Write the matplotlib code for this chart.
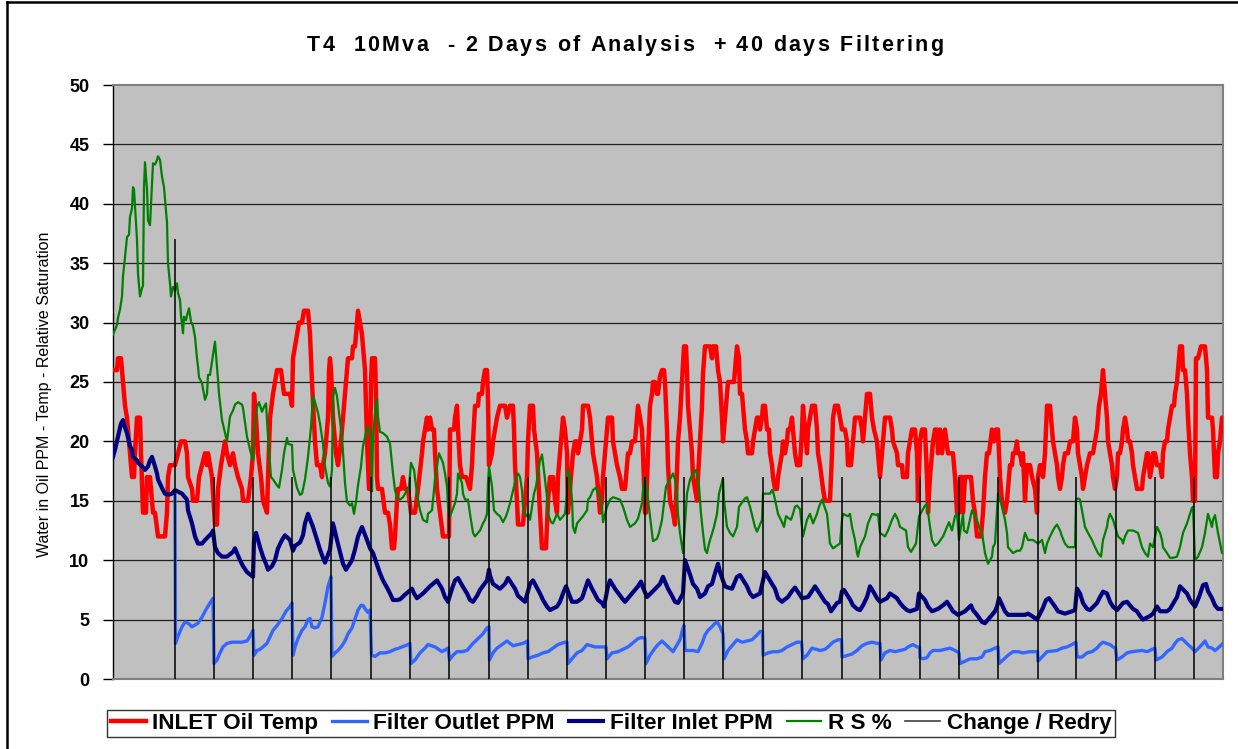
import matplotlib
matplotlib.use("Agg")
import matplotlib.pyplot as plt
from matplotlib.lines import Line2D
from matplotlib.font_manager import FontProperties

# ---------------- data (x = sample index along the 42-day record) ----------------
temp_t = [0,4,5,8,9,10,12,14,17,19,21,22,24,27,28,30,33,34,35,37,40,42,45,52,54,55,57,62,65,68,72,74,75,79,80,84,86,89,92,94,95,97,99,102,104,105,108,112,114,117,120,122,125,129,130,135,138,140,141,143,145,148,150,154,155,157,160,164,168,171,177,179,180,182,184,186,189,191,195,197,199,202,204,207,209,210,212,215,216,217,218,220,223,225,228,230,232,234,235,239,240,242,244,245,247,249,250,252,254,256,257,258,259,262,263,264,265,269,272,275,277,279,281,282,284,285,288,290,292,295,298,302,305,309,310,312,314,315,317,319,321,322,324,327,330,336,337,341,342,344,345,347,349,353,357,359,360,362,365,366,369,370,372,374,375,376,379,380,382,384,387,392,394,397,400,401,402,404,405,410,412,414,415,417,420,421,424,427,429,433,435,437,439,440,442,444,445,447,449,450,452,454,455,457,459,460,462,464,465,467,469,470,475,477,479,480,484,485,487,489,490,492,494,495,499,500,502,504,507,509,512,514,515,517,519,522,524,525,527,529,530,532,533,535,537,539,540,542,544,545,547,549,551,552,554,555,557,560,562,563,565,567,569,571,573,574,575,577,579,580,582,584,585,587,589,590,592,597,599,600,603,605,607,609,610,612,614,615,621,623,624,626,627,629,630,632,634,635,639,640,642,644,646,647,649,650,652,654,656,657,659,660,662,664,665,667,669,670,672,674,675,677,679,680,682,684,687,689,690,692,694,695,697,699,702,704,705,707,710,712,717,719,720,722,725,727,729,732,734,735,738,740,742,747,749,750,752,754,757,759,761,764,765,767,769,770,772,777,779,780,784,785,789,790,794,795,797,799,802,804,805,807,809,812,814,815,817,819,820,822,824,825,827,829,832,835,840,842,844,846,847,849,850,852,858,859,860,862,864,868,870,872,874,876,879,881,883,885,886,887,889,892,894,896,897,899,900,902,904,905,907,909,910,912,914,915,917,919,922,924,925,927,929,930,932,934,937,939,940,942,944,945,947,949,950,952,955,957,960,962,964,965,967,969,970,972,974,977,980,982,984,986,988,990,992,994,995,997,999,1000,1002,1004,1005,1007,1009,1010,1012,1014,1015,1017,1019,1020,1022,1024,1029,1030,1032,1034,1035,1037,1039,1040,1042,1044,1047,1049,1050,1052,1054,1055,1057,1059,1061,1062,1064,1065,1067,1069,1070,1072,1074,1075,1077,1079,1080,1082,1083,1085,1088,1092,1094,1095,1099,1100,1102,1104,1105,1107,1109,1110]
temp_v = [26,26,27,27,26,25,23,22,19,17,17,19,22,22,19,14,14,17,16,17,14,14,12,12,14,17,18,18,19,20,20,19,17,16,15,15,17,18,19,18,19,18,17,13,13,16,18,20,19,18,19,18,17,16,15,15,17,19,24,22,19,17,15,14,17,22,24,26,26,24,24,23,27,28,29,30,30,31,31,29,25,20,18,18,17,18,19,22,26,27,26,22,19,18,20,22,24,26,27,27,28,28,30,31,30,29,28,26,20,16,16,25,27,27,24,17,16,16,14,14,13,11,11,12,15,16,16,17,16,16,14,14,16,19,20,21,22,21,22,21,21,19,16,14,12,12,21,21,22,23,21,18,17,17,16,18,20,23,23,24,24,25,26,26,23.5,18,19,20,21,22,23,23,22,23,23,21,18,15,13,13,15,17,20,23,23,21,19,14,11,11,15,17,16,17,15,14,17,19,21,22,21,19,14,16,18,19,20,20,19,20,21,23,23,22,20,19,17,16,14,15,17,19,21,22,22,20,19,18,17,16,16,18,19,19,20,20,22,23,22,21,19,14,14,19,23,24,25,25,24,24,25.5,26,26,25,21,18,15,14,13,15,20,22,25,28,28,26,23,21,19,17,16,15,17,20,23,25.7,28,28,27,28,28,26,25,22,20,22,24,25,25,27,28,27,24,24,23,21,20,19,19,20,21,22,22,21,22,23,23,21,21,19,18,17,16,16,17,18,19,20,19,20,21,21,22,21,19,18,18,21,23,21,19,21,22,23,23,21,19,18,16,15,15,19,22,23,23,22,21,21,20,18,18,20,22,22,21,20,22,24,24,22,21,20,19,17,19,20,22,22,21,20,19,18,18,17,17,19,20,21,21,19,15,20,21,21,17,14,17,19,20,21,21,19,21,19,21,19,19,17,14,14,17,17,14,17,17,16,15,14,12,12,14,17,19,19,21,20,21,21,19,17,15,14,15,17,18,18,19,19,20,19,19,18,19,15,18,18,18,17,16,14,17,18,18,17,19,23,23,21,20,19,18,17,16,17,18,19,19,20,20,22,21,19,18,17,16,17,18,19,19,20,21,23,24,26,24,22,20,19,18,17,16,17,19,19,20,21,22,21,20,20,19,18,17,16,16,17,18,19,19,17,18,19,19,18,18,17,19,20,20,21,22,23,23,24,25,26,28,28,26,26,24,22,19,17,15,15,27,27,28,28,26,22,22,21,17,17,19,20,22,22]

outlet_t = [62,62.5,65,69,72,75,79,85,89,92,97,100,101,104,107,110,114,119,124,129,134,137,140,141,144,147,150,154,160,164,169,173,177,179,180,182,185,189,192,195,197,199,202,205,209,212,215,218,219,222,225,229,232,235,239,245,248,250,253,255,257,258.5,262,267,272,277,282,286,292,295,297,298,302,307,312,315,322,329,335,336.5,340,344,349,354,360,365,370,374,376,376.5,380,384,389,394,400,410,414.5,415,419,425,430,435,445,452,454,455,459,464,469,474,482,492,493,494,499,505,515,525,529,532,533,537,542,545,549,554,560,567,570,571,572,580,585,589,592,595,599,602,604,607,610,611,615,624,629,639,644,647,649.5,650,655,660,665,669,674,679,684,688.5,690,694,699,703,707,712,715,720,725,728.5,729,739,744,749,754,759,764,767,768,772,777,782,787,792,795,800,804,806.5,807,810,814,817,820,827,832,837,842,846,847,852,857,864,869,872,877,882,885,886,890,895,900,905,910,917,922,924.5,925,929,934,944,949,954,959,963,964,969,974,979,984,987,990,997,1000,1002.5,1004,1009,1014,1019,1029,1034,1042,1043,1049,1054,1059,1062,1065,1069,1075,1079,1081,1082,1089,1092,1095,1099,1102,1105,1110]
outlet_v = [15.6,3.0,3.6,4.4,4.8,4.7,4.4,4.7,5.2,5.7,6.4,6.8,1.3,1.6,2.2,2.7,3.0,3.1,3.1,3.1,3.2,3.6,4.1,2.0,2.4,2.5,2.7,3.0,4.1,4.5,5.1,5.7,6.1,6.4,2.0,2.7,3.4,4.1,4.4,5.0,5.1,4.4,4.3,4.4,5.2,6.4,7.8,8.6,1.9,2.2,2.4,2.8,3.2,3.8,4.3,5.8,6.2,6.2,5.8,5.6,5.8,2.0,1.9,2.2,2.2,2.3,2.5,2.6,2.8,2.9,3.0,1.3,1.6,2.2,2.6,2.9,2.7,2.3,2.6,1.6,2.0,2.3,2.3,2.4,3.0,3.4,3.8,4.3,4.4,1.6,2.2,2.6,2.9,3.2,2.8,3.0,3.2,1.7,1.85,2.0,2.2,2.3,2.9,3.1,3.1,1.3,1.7,2.2,2.4,2.9,2.7,2.7,2.7,1.7,2.2,2.3,2.7,3.4,3.5,3.4,1.3,2.0,2.6,2.9,3.2,2.8,2.3,3.3,4.3,4.5,2.4,2.4,2.3,3.0,3.7,4.1,4.4,4.7,4.8,4.4,3.8,1.7,2.4,3.3,3.1,3.3,3.7,4.0,4.0,2.0,2.2,2.3,2.3,2.4,2.7,2.9,3.1,3.1,1.7,2.0,2.6,2.5,2.4,2.5,2.7,3.1,3.3,3.3,1.85,2.1,2.4,2.8,3.0,3.1,3.0,3.0,1.6,2.2,2.4,2.3,2.4,2.5,2.7,2.9,2.7,2.7,1.8,1.7,1.8,2.2,2.4,2.4,2.5,2.6,2.4,2.2,1.3,1.5,1.7,1.7,1.85,2.3,2.4,2.6,2.7,1.3,1.6,2.0,2.3,2.3,2.2,2.3,2.3,2.3,1.5,1.85,2.3,2.4,2.6,2.7,2.9,3.1,1.85,1.85,2.2,2.3,2.6,2.9,3.1,2.9,2.7,2.6,1.6,1.85,2.2,2.3,2.4,2.3,2.6,1.6,1.85,2.3,2.6,3.0,3.3,3.4,2.9,2.6,2.4,2.3,2.9,3.2,2.7,2.6,2.4,2.6,3.0]

inlet_t = [0,2,5,8,10,11,14,17,19,20,24,25,29,32,35,37,39,42,44,45,50,52,55,59,62,69,74,75,79,82,85,89,92,99,100,102,105,109,114,117,120,122,124,127,130,134,137,140,141,143,147,150,153,155,159,162,165,169,172,177,180,182,187,190,192,195,200,204,207,210,212,217,220,224,230,233,239,242,245,249,254,257,260,267,270,274,277,280,284,287,292,299,301,304,310,317,324,329,332,335,339,342,345,349,354,357,360,364,367,374,376,377,380,387,392,395,402,405,412,417,420,427,430,434,437,444,447,450,453,459,464,469,475,479,485,489,491,495,497,502,509,512,519,525,528,530,534,540,547,550,555,559,562,565,570,572,577,580,584,587,592,595,599,602,605,607,612,615,619,624,627,634,637,640,647,652,659,662,665,669,675,679,682,689,695,699,702,709,712,715,718,724,727,729,731,737,740,744,747,750,754,757,760,764,767,774,777,784,787,790,794,797,804,806,812,815,819,825,830,834,840,845,852,858,860,864,869,872,875,879,882,884,886,892,895,902,912,915,919,924,930,933,936,942,945,952,959,962,964,967,970,974,977,984,987,990,994,997,1000,1004,1010,1014,1020,1024,1027,1030,1037,1040,1044,1047,1054,1057,1064,1067,1074,1077,1082,1086,1090,1093,1095,1099,1102,1105,1110]
inlet_v = [18.7,19.3,20.4,21.5,21.8,21.4,20.7,19.6,19.3,18.7,18.4,18.2,17.9,17.6,17.9,18.4,18.7,17.9,17.3,16.8,15.9,15.6,15.5,15.6,15.9,15.6,15.1,14.2,13.1,12.0,11.4,11.4,11.7,12.3,12.5,11.1,10.6,10.3,10.3,10.5,10.7,11.0,10.6,10.0,9.5,9.0,8.8,8.6,11.7,12.3,11.1,10.3,9.7,9.2,9.5,10.0,11.0,11.7,12.1,11.7,10.8,11.2,11.5,12.1,13.1,13.9,12.8,11.7,10.9,10.2,9.8,10.9,13.1,11.7,9.7,9.2,10.0,10.9,12.0,12.8,11.7,11.0,10.6,8.9,8.3,7.7,7.2,6.65,6.65,6.7,7.1,7.6,7.2,6.8,7.2,7.8,8.3,7.6,6.9,6.5,7.6,8.3,8.5,7.9,7.2,6.65,6.5,7.0,7.5,8.3,9.2,8.7,8.0,7.6,8.0,8.5,7.6,7.0,6.5,8.0,8.3,7.2,6.65,6.1,5.8,6.1,6.5,7.2,7.8,6.5,6.5,6.8,8.3,7.6,6.65,6.4,6.1,7.8,8.3,7.6,6.8,6.5,7.2,7.8,8.2,7.7,6.9,7.4,8.0,8.6,7.6,7.0,6.5,6.4,7.2,10.0,8.8,8.0,7.6,6.9,7.2,7.8,8.0,8.9,9.7,9.0,7.8,7.7,7.6,8.6,8.75,7.8,7.2,6.9,7.2,9.0,8.0,7.6,6.8,6.5,6.9,7.4,7.7,6.8,6.9,7.4,7.8,6.9,6.5,6.3,5.7,6.4,6.5,7.4,7.5,6.7,6.2,5.9,5.8,6.2,6.9,7.8,7.4,6.8,6.5,6.8,7.2,6.8,6.4,6.1,5.8,5.7,5.9,7.2,6.65,6.1,5.7,5.9,6.2,6.5,5.7,5.4,5.7,6.2,5.8,5.4,4.8,4.7,5.0,5.4,5.7,6.1,6.8,5.7,5.4,5.4,5.4,5.5,5.3,5.0,6.0,6.65,6.8,6.1,5.7,5.5,5.7,5.8,7.6,7.2,6.4,5.9,5.8,6.4,6.9,7.35,7.2,6.5,6.1,5.8,6.4,6.5,5.9,5.7,5.3,5.0,5.3,5.5,6.1,5.7,5.7,5.9,6.9,7.8,7.2,6.65,6.1,6.9,7.9,8.0,7.4,6.8,6.2,5.9,5.9]

rs_t = [0,4,5,7,9,10,12,14,16,17,19,20,21,22,24,25,27,29,30,31,32,34,35,37,39,40,42,44,45,47,49,51,54,55,57,58,60,62,64,65,67,68,70,71,73,74,76,78,80,82,84,85,86,89,92,94,95,97,102,105,106,109,112,114,117,120,122,125,129,130,134,137,140,141,144,146,149,151,153,155,158,160,164,166,169,171,174,175,179,180,184,187,189,192,195,198,200,202,205,207,210,212,215,217,219,220,222,224,226,229,232,234,237,239,241,243,245,248,250,254,255,258,259,260,262,264,265,267,270,274,277,280,282,284,287,290,294,296,298,301,304,307,310,314,315,319,320,322,324,326,330,332,334,335,337,342,344,345,349,350,352,355,357,360,362,367,370,372,374,375,376,379,381,384,387,390,393,395,397,401,403,405,407,409,410,412,414,415,417,421,423,425,427,429,430,432,434,435,438,440,444,447,452,454,455,457,459,460,462,464,467,470,474,475,477,480,483,487,489,490,494,497,500,507,510,514,517,522,525,529,530,532,535,537,539,540,544,546,549,553,557,560,562,564,565,567,570,574,577,580,583,586,588,590,592,594,596,601,604,606,610,611,614,617,620,624,626,632,634,637,642,644,646,649,650,657,659,660,662,665,669,671,673,678,680,682,684,687,690,694,697,700,704,706,709,714,717,720,727,729,730,735,737,739,742,744,745,747,752,755,759,764,765,767,772,775,779,782,785,787,793,795,798,803,806,810,812,814,817,819,822,825,830,834,836,839,842,844,846,850,851,854,859,864,866,869,872,875,879,880,882,885,887,889,892,894,895,900,904,907,909,912,915,920,925,929,932,934,937,940,942,944,947,949,952,955,962,963,965,967,970,972,975,979,982,985,988,990,994,995,997,1000,1004,1005,1009,1010,1012,1015,1020,1025,1027,1029,1032,1035,1037,1040,1044,1047,1049,1050,1054,1057,1060,1064,1067,1070,1074,1077,1079,1080,1082,1085,1089,1092,1094,1095,1099,1100,1102,1105,1109,1110]
rs_v = [29.0,29.8,30.4,31.1,32.2,33.9,35.5,37.2,37.4,38.9,39.6,41.4,41.2,39.8,37.0,34.1,32.2,32.9,33.1,41.4,43.5,41.2,38.6,38.2,41.7,43.4,43.3,43.7,44.0,43.7,42.3,41.4,38.4,35.0,33.3,32.2,33.0,32.7,33.3,32.5,31.9,30.6,29.1,30.5,30.2,30.6,31.2,30.1,29.7,28.8,27.0,26.3,25.4,24.9,23.5,24.0,25.6,25.6,28.4,25.2,24.0,21.8,20.7,20.0,22.1,22.6,23.1,23.3,23.1,22.8,20.4,19.3,18.4,20.7,22.9,23.3,22.5,22.9,23.2,20.4,17.0,16.8,16.3,16.1,17.6,19.0,20.3,19.8,19.7,17.6,16.1,15.5,15.6,16.8,18.7,21.2,23.8,23.3,22.4,21.5,19.8,17.9,16.5,16.2,17.6,23.8,24.5,23.8,22.4,20.4,16.5,14.9,14.6,14.8,13.9,14.9,16.3,17.9,19.6,21.1,21.2,20.4,15.8,20.4,22.4,23.6,22.1,20.8,20.7,20.4,19.8,17.3,15.9,15.3,15.1,15.3,15.9,16.2,18.2,17.6,15.6,14.2,13.4,13.2,13.9,14.2,15.1,16.8,17.9,19.0,18.2,17.3,16.2,14.5,13.7,14.8,15.6,17.3,16.5,15.6,15.1,15.1,13.9,12.3,12.0,12.5,13.1,13.4,13.9,16.5,17.9,16.2,14.2,13.9,13.7,13.2,13.7,14.2,14.8,16.2,17.0,17.3,17.0,15.9,14.5,13.9,13.7,13.9,13.4,15.6,16.2,17.3,18.4,18.9,18.2,16.8,15.3,13.9,13.2,13.1,13.9,13.4,13.9,15.6,17.6,17.0,15.1,12.8,12.3,13.1,13.4,13.7,14.2,15.1,15.3,15.9,16.1,15.3,14.5,13.2,14.5,15.1,15.3,15.1,14.5,13.4,12.8,13.1,13.5,14.8,15.9,17.0,15.1,13.7,12.3,11.6,11.8,12.3,13.4,16.2,16.8,17.3,16.8,15.6,13.9,12.3,10.6,15.6,16.8,17.3,17.6,16.2,13.9,12.3,10.9,10.6,11.4,12.8,13.9,15.6,16.9,15.1,12.8,12.3,12.0,12.8,14.5,15.2,15.3,14.5,12.8,12.4,12.8,13.4,15.6,15.6,15.9,15.8,15.1,13.9,13.2,12.8,13.7,13.4,13.9,14.5,14.6,14.3,12.0,13.4,13.9,13.1,13.9,14.5,15.1,13.9,11.4,11.0,11.4,13.4,13.9,13.7,13.9,12.8,11.7,10.6,10.3,11.1,12.0,13.1,13.9,13.8,13.9,12.3,12.0,12.5,13.4,13.9,13.4,12.8,12.5,11.1,10.7,11.4,13.7,14.3,14.6,14.7,12.8,11.7,11.2,11.4,12.0,12.8,13.2,12.5,13.7,13.9,11.7,13.9,12.5,12.3,14.2,13.4,12.8,12.3,10.6,9.7,10.3,11.1,11.4,15.6,15.1,14.5,13.4,12.3,11.1,10.6,10.8,10.8,11.1,12.3,11.7,11.7,11.4,11.7,10.6,11.4,12.0,12.5,12.8,13.0,12.5,12.0,11.4,11.1,11.1,15.1,15.2,15.1,13.7,12.8,12.3,11.7,11.1,10.6,10.3,11.7,12.8,13.4,13.9,13.4,12.3,12.0,11.7,11.4,12.0,12.5,12.5,12.3,11.7,11.1,10.6,10.3,11.4,11.1,12.8,12.3,11.7,11.1,10.6,10.2,10.2,10.3,11.1,12.3,13.1,13.9,14.4,14.5,10.0,10.3,11.1,12.3,13.4,13.9,12.8,13.4,13.8,12.3,10.6,10.6]

redry_t = [62,101,140,179,218,258,297,336,376,415,454,493,532,571,610,650,689,729,767,807,846,885,925,963,1003,1042,1081]
redry_h = [37,17,17,17,17,17,17,17,17,17,17,17,17,17,17,17,17,17,17,17,17,17,17,17,17,17,17]

y_ticks = [0, 5, 10, 15, 20, 25, 30, 35, 40, 45, 50]
title = "T4  10Mva  - 2 Days of Analysis  + 40 days Filtering"
ylabel = "Water in Oil PPM - Temp - Relative Saturation"
labels = ["INLET Oil Temp", "Filter Outlet PPM", "Filter Inlet PPM", "R S %", "Change / Redry"]

# ---------------- figure ----------------
plt.rcParams['font.family'] = ['Liberation Sans', 'DejaVu Sans']
W, H = 1238, 749
fig = plt.figure(figsize=(W / 100, H / 100), dpi=100)
fig.patch.set_facecolor('white')
ax = fig.add_axes([113 / W, 1 - 679 / H, (1223 - 113) / W, (679 - 85) / H])
ax.set_facecolor('#C0C0C0')

c_red, c_lb, c_navy, c_green = '#FF0000', '#3366FF', '#000080', '#008000'
l1, = ax.plot(temp_t, temp_v, color=c_red, lw=3.2, zorder=3)
l2, = ax.plot(outlet_t, outlet_v, color=c_lb, lw=2.4, zorder=4)
l3, = ax.plot(inlet_t, inlet_v, color=c_navy, lw=3.0, zorder=5)
l4, = ax.plot(rs_t, rs_v, color=c_green, lw=1.6, zorder=6)
ax.vlines(redry_t, 0, redry_h, color='black', lw=1.1, zorder=7)
l5 = Line2D([], [], color='#404040', lw=1.2)

ax.set_xlim(0, 1110)
ax.set_ylim(0, 50)
ax.set_yticks(y_ticks)
ax.set_xticks([])
for y in y_ticks[1:-1]:
    ax.axhline(y, color='#202020', lw=0.9, zorder=1)
for s in ['top', 'right', 'bottom']:
    ax.spines[s].set_color('#808080')
    ax.spines[s].set_linewidth(1.5)
ax.spines['left'].set_color('black')
ax.spines['left'].set_linewidth(1.0)
ax.tick_params(axis='y', direction='out', length=7, width=1, pad=10, labelsize=13)
for lab in ax.get_yticklabels():
    lab.set_fontweight('bold')


def spaced_text(s, xc_px, ybase_px, spacing_px, prop):
    """Draw text with extra letter spacing, centred at xc_px, baseline at ybase_px (from top)."""
    renderer = fig.canvas.get_renderer()
    wref = renderer.get_text_width_height_descent('x', prop, ismath=False)[0]
    adv = [renderer.get_text_width_height_descent(s[:i] + 'x', prop, ismath=False)[0] - wref
           for i in range(len(s) + 1)]
    total = adv[-1] + spacing_px * (len(s) - 1)
    x0 = xc_px - total / 2
    for i, ch in enumerate(s):
        if ch == ' ':
            continue
        fig.text((x0 + adv[i] + i * spacing_px) / W, 1 - ybase_px / H, ch,
                 fontproperties=prop, ha='left', va='baseline')


title_prop = FontProperties(family=['Liberation Sans', 'DejaVu Sans'], weight='bold', size=15.5)
spaced_text(title, 625, 51, 2.3, title_prop)

fig.text(45 / W, 1 - 394 / H, ylabel, rotation=90, ha='center', va='center', fontsize=11.5)

leg = fig.legend([l1, l2, l3, l4, l5], labels, loc='center', bbox_to_anchor=(611 / W, 1 - 723.5 / H),
                 ncol=5, frameon=True, fancybox=False, edgecolor='black', handlelength=1.55,
                 handletextpad=0.28, columnspacing=0.62, borderpad=0.15, borderaxespad=0,
                 prop={'weight': 'bold', 'size': 16.2})
leg.get_frame().set_linewidth(1.0)

# outer chart frame (top and left edges visible)
fig.add_artist(Line2D([7 / W, 1], [1 - 1.5 / H, 1 - 1.5 / H], color='black', lw=1.8, transform=fig.transFigure))
fig.add_artist(Line2D([7 / W, 7 / W], [0, 1 - 1.5 / H], color='black', lw=1.8, transform=fig.transFigure))

fig.savefig('out.png', dpi=100)
